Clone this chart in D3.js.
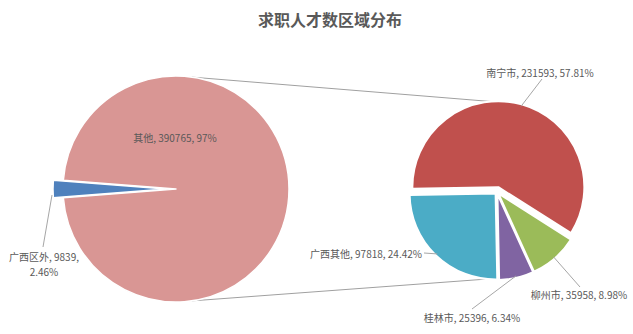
<!DOCTYPE html>
<html>
<head>
<meta charset="utf-8">
<script src="https://cdn.jsdelivr.net/npm/d3@7"></script>
<style>
  body { margin: 0; background: #fff; }
  text { font-family: "Noto Sans CJK SC", "Noto Sans", sans-serif; }
</style>
</head>
<body>
<div id="chart"></div>
<script>
// data
const mainNames = ["其他", "广西区外"];
const mainValues = [390765, 9839];
const mainPct = ["97%", "2.46%"];

const subNames = ["南宁市", "柳州市", "桂林市", "广西其他"];
const subValues = [231593, 35958, 25396, 97818];
const subPct = ["57.81%", "8.98%", "6.34%", "24.42%"];

const mainColors = ["#d99694", "#4f81bd"];
const subColors = ["#c0504d", "#9bbb59", "#8064a2", "#4bacc6"];

//////////CODE//////////
const svgObj = { width: 633, height: 334 };
const bigPie = { cx: 176, cy: 189, r: 113, explode: [0, 10] };
const smallPie = { cx: 497, cy: 192, r: 86, explode: [5, 2, 2, 2] };

const deg = Math.PI / 180;

const svg = d3
  .select("#chart")
  .append("svg")
  .attr("width", svgObj.width)
  .attr("height", svgObj.height);

svg
  .append("text")
  .attr("x", 330)
  .attr("y", 19)
  .attr("text-anchor", "middle")
  .attr("dominant-baseline", "central")
  .attr("font-size", 16)
  .attr("font-weight", "bold")
  .attr("fill", "#595959")
  .text("求职人才数区域分布");

// offset of a slice along its mid angle
const offsetOf = (d, dist) => {
  const mid = (d.startAngle + d.endAngle) / 2;
  return [Math.sin(mid) * dist, -Math.cos(mid) * dist];
};
const edgePoint = (pie, d, extra) => {
  const mid = (d.startAngle + d.endAngle) / 2;
  const r = pie.r + extra;
  return [pie.cx + Math.sin(mid) * r, pie.cy - Math.cos(mid) * r];
};

// connector lines between the pies
const bigTopAngle = 8 * deg;
const bigBotAngle = 172 * deg;
const connectors = [
  [
    [bigPie.cx + Math.sin(bigTopAngle) * bigPie.r, bigPie.cy - Math.cos(bigTopAngle) * bigPie.r],
    [smallPie.cx, smallPie.cy - smallPie.r - 4],
  ],
  [
    [bigPie.cx + Math.sin(bigBotAngle) * bigPie.r, bigPie.cy - Math.cos(bigBotAngle) * bigPie.r],
    [smallPie.cx + 4, smallPie.cy + smallPie.r],
  ],
];
svg
  .selectAll("line.conn")
  .data(connectors)
  .join("line")
  .attr("class", "conn")
  .attr("x1", (d) => d[0][0])
  .attr("y1", (d) => d[0][1])
  .attr("x2", (d) => d[1][0])
  .attr("y2", (d) => d[1][1])
  .attr("stroke", "#a0a0a0")
  .attr("stroke-width", 1);

// big pie
const blueSpan = (mainValues[1] / d3.sum(mainValues)) * 2 * Math.PI;
const mainStart = -Math.PI / 2 + blueSpan / 2;
const mainArcs = d3
  .pie()
  .sort(null)
  .startAngle(mainStart)
  .endAngle(mainStart + 2 * Math.PI)(mainValues);

const bigArc = d3.arc().innerRadius(0).outerRadius(bigPie.r);
const bigGroup = svg
  .append("g")
  .attr("transform", `translate(${bigPie.cx}, ${bigPie.cy})`);

bigGroup
  .selectAll("path")
  .data(mainArcs)
  .join("path")
  .attr("d", bigArc)
  .attr("transform", (d, i) => {
    const o = offsetOf(d, bigPie.explode[i]);
    return `translate(${o[0]}, ${o[1]})`;
  })
  .attr("fill", (d, i) => mainColors[i])
  .attr("stroke", "#fff")
  .attr("stroke-width", 1.5)
  .attr("stroke-linejoin", "round");

// small pie
const subArcs = d3
  .pie()
  .sort(null)
  .startAngle(-91 * deg)
  .endAngle(-91 * deg + 2 * Math.PI)(subValues);

const smallArc = d3.arc().innerRadius(0).outerRadius(smallPie.r);
const smallGroup = svg
  .append("g")
  .attr("transform", `translate(${smallPie.cx}, ${smallPie.cy})`);

smallGroup
  .selectAll("path")
  .data(subArcs)
  .join("path")
  .attr("d", smallArc)
  .attr("transform", (d, i) => {
    const o = offsetOf(d, smallPie.explode[i]);
    return `translate(${o[0]}, ${o[1]})`;
  })
  .attr("fill", (d, i) => subColors[i])
  .attr("stroke", "#fff")
  .attr("stroke-width", 2)
  .attr("stroke-linejoin", "round");

// labels
const labelStyle = (sel) =>
  sel
    .attr("font-size", 10)
    .attr("fill", "#595959")
    .attr("dominant-baseline", "central");

const leader = (p1, p2) =>
  svg
    .append("line")
    .attr("x1", p1[0])
    .attr("y1", p1[1])
    .attr("x2", p2[0])
    .attr("y2", p2[1])
    .attr("stroke", "#a6a6a6")
    .attr("stroke-width", 1);

// 其他 label inside big slice
svg
  .append("text")
  .attr("x", 175)
  .attr("y", 137)
  .attr("text-anchor", "middle")
  .text(`${mainNames[0]}, ${mainValues[0]}, ${mainPct[0]}`)
  .call(labelStyle);

// 广西区外 label, two separate lines
const blueEdge = edgePoint(bigPie, mainArcs[1], bigPie.explode[1]);
leader([blueEdge[0] - 1, blueEdge[1] + 6], [43, 247]);
svg
  .append("text")
  .attr("x", 44)
  .attr("y", 256)
  .attr("text-anchor", "middle")
  .text(`${mainNames[1]}, ${mainValues[1]},`)
  .call(labelStyle);
svg
  .append("text")
  .attr("x", 44)
  .attr("y", 271)
  .attr("text-anchor", "middle")
  .text(mainPct[1])
  .call(labelStyle);

// small pie labels: position, anchor, leader end
const subLabelPos = [
  { x: 540, y: 72, anchor: "middle", end: [542, 79] },
  { x: 579, y: 294, anchor: "middle", end: [580, 287] },
  { x: 472, y: 317, anchor: "middle", end: [472, 309] },
  { x: 422, y: 253, anchor: "end", end: [424, 253] },
];

subArcs.forEach((d, i) => {
  const start = edgePoint(smallPie, d, smallPie.explode[i] - 2);
  leader(start, subLabelPos[i].end);
  svg
    .append("text")
    .attr("x", subLabelPos[i].x)
    .attr("y", subLabelPos[i].y)
    .attr("text-anchor", subLabelPos[i].anchor)
    .text(`${subNames[i]}, ${subValues[i]}, ${subPct[i]}`)
    .call(labelStyle);
});
</script>
</body>
</html>
